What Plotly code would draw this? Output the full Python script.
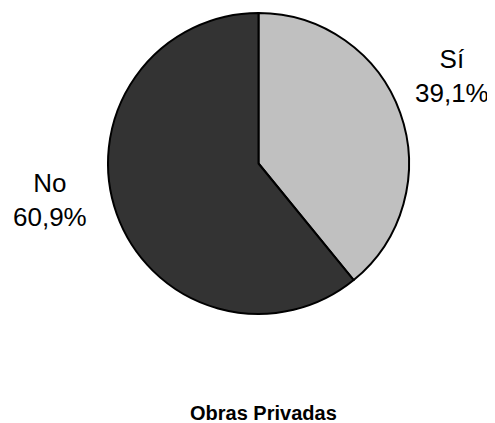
import plotly.graph_objects as go

# datos del gráfico
categorias = ["Sí", "No"]
porcentajes = [39.1, 60.9]
colores = ["#c0c0c0", "#333333"]
titulo = "Obras Privadas"

W, H = 495, 423
OFF = 8  # margen del body de la página
FONT = "Liberation Sans, Arial, sans-serif"


def fmt(v):
    return f"{v:.1f}".replace(".", ",") + "%"


def px(x):
    return (x - OFF) / W


def py(y):
    return 1 - (y - OFF) / H


fig = go.Figure(go.Pie(
    labels=categorias,
    values=porcentajes,
    sort=False,
    direction="clockwise",
    rotation=0,
    marker=dict(colors=colores, line=dict(color="#000000", width=2)),
    textinfo="none",
    hoverinfo="label+percent",
    showlegend=False,
    domain=dict(x=[px(108), px(409)], y=[py(314), py(13)]),
))

# etiquetas exteriores
pos_etiquetas = [(452, 76), (50, 200)]
for cat, pct, (lx, ly) in zip(categorias, porcentajes, pos_etiquetas):
    fig.add_annotation(
        x=px(lx), y=py(ly), xref="paper", yref="paper",
        text=f"{cat}<br>{fmt(pct)}", showarrow=False,
        xanchor="center", yanchor="middle",
        font=dict(family=FONT, size=26, color="#000000"),
    )

fig.add_annotation(
    x=px(263), y=py(413), xref="paper", yref="paper",
    text=f"<b>{titulo}</b>", showarrow=False,
    xanchor="center", yanchor="middle",
    font=dict(family=FONT, size=20, color="#000000"),
)

fig.update_layout(
    width=W, height=H,
    margin=dict(l=0, r=0, t=0, b=0),
    paper_bgcolor="white",
    plot_bgcolor="white",
)

fig.write_html("out.html")
